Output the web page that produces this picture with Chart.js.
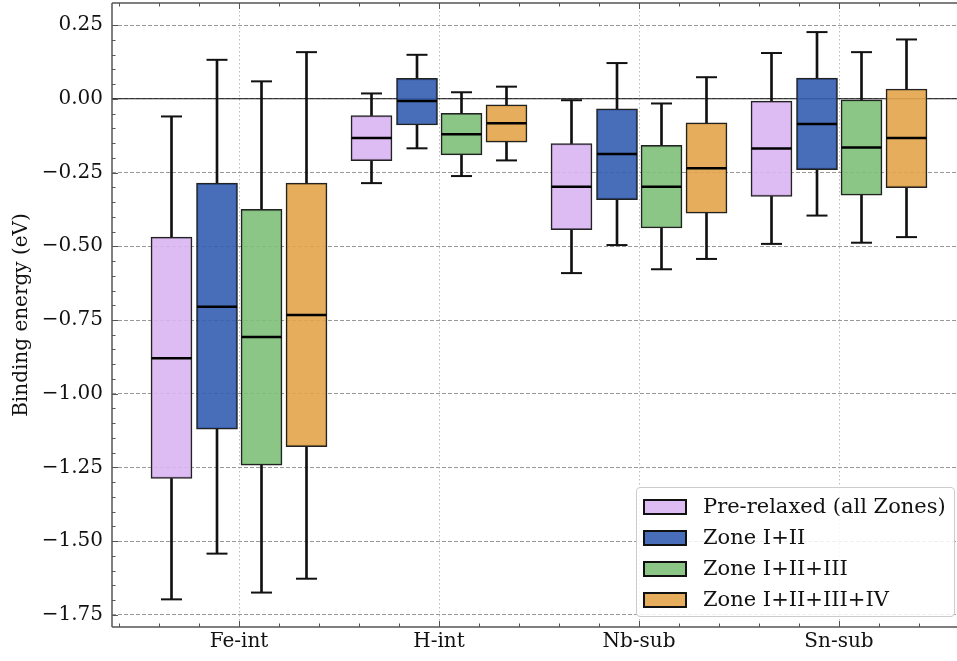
<!DOCTYPE html>
<html>
<head>
<meta charset="utf-8">
<script src="https://cdn.jsdelivr.net/npm/chart.js@4.4.1/dist/chart.umd.min.js"></script>
<style>
  html, body { margin: 0; padding: 0; background: #fff; }
  #wrap { position: relative; width: 957px; height: 661px; overflow: hidden; }
  #legend {
    position: absolute; left: 636px; top: 487px; width: 317px; height: 128px;
    border: 1px solid #ccc; border-radius: 4px; background: rgba(255,255,255,0.85);
    font-family: "DejaVu Serif", serif; font-size: 21px; color: #111;
  }
  .row { position: absolute; left: 0; height: 20px; line-height: 20px; white-space: nowrap; }
  .sw { position: absolute; left: 6px; top: 2px; width: 40px; height: 12px; border: 2px solid #111; }
  .lbl { position: absolute; left: 66px; top: -1px; }
</style>
</head>
<body>
<div id="wrap">
  <canvas id="c" width="957" height="661"></canvas>
  <div id="legend"></div>
</div>
<script>
// ── Data ──────────────────────────────────────────────────────────────────
const categories = ['Fe-int', 'H-int', 'Nb-sub', 'Sn-sub'];
const seriesNames = ['Pre-relaxed (all Zones)', 'Zone I+II', 'Zone I+II+III', 'Zone I+II+III+IV'];
const yTicks = [-1.75, -1.5, -1.25, -1.0, -0.75, -0.5, -0.25, 0.0, 0.25];

// per series: one value per category
const wMin = [
  [-1.697, -0.286, -0.591, -0.492],
  [-1.542, -0.168, -0.496, -0.396],
  [-1.674, -0.262, -0.578, -0.488],
  [-1.627, -0.209, -0.543, -0.469]
];
const q1 = [
  [-1.287, -0.210, -0.444, -0.331],
  [-1.120, -0.089, -0.342, -0.240],
  [-1.242, -0.190, -0.438, -0.327],
  [-1.179, -0.147, -0.388, -0.301]
];
const med = [
  [-0.880, -0.133, -0.298, -0.169],
  [-0.705, -0.008, -0.187, -0.086],
  [-0.808, -0.120, -0.298, -0.165],
  [-0.733, -0.083, -0.236, -0.133]
];
const q3 = [
  [-0.469, -0.057, -0.152, -0.008],
  [-0.286,  0.069, -0.034,  0.070],
  [-0.375, -0.049, -0.158, -0.004],
  [-0.286, -0.021, -0.082,  0.033]
];
const wMax = [
  [-0.060,  0.018, -0.005,  0.155],
  [ 0.132,  0.149,  0.121,  0.226],
  [ 0.059,  0.022, -0.016,  0.158],
  [ 0.158,  0.041,  0.073,  0.201]
];

const fills = ['rgba(216,181,241,0.9)', 'rgba(52,94,177,0.9)', 'rgba(126,192,122,0.9)', 'rgba(226,164,74,0.9)'];
const offsets = [-0.3375, -0.11, 0.1125, 0.3375];
const FONT = '"DejaVu Serif", serif';

// ── Datasets ──────────────────────────────────────────────────────────────
const datasets = [];
seriesNames.forEach((name, s) => {
  const xs = categories.map((_, i) => i + offsets[s]);
  datasets.push({
    type: 'bar', label: name, order: 2, grouped: false, barThickness: 41,
    backgroundColor: fills[s], borderColor: '#222', borderWidth: 1.5, borderSkipped: false,
    data: xs.map((x, i) => ({ x: x, y: [q1[s][i], q3[s][i]] }))
  });
  datasets.push({
    type: 'bar', label: name + ' whisker', order: 3, grouped: false, barThickness: 2,
    backgroundColor: '#111', borderWidth: 0,
    data: xs.map((x, i) => ({ x: x, y: [wMin[s][i], q1[s][i]] }))
      .concat(xs.map((x, i) => ({ x: x, y: [q3[s][i], wMax[s][i]] })))
  });
  datasets.push({
    type: 'line', label: name + ' caps', order: 1, showLine: false,
    pointStyle: 'line', pointRadius: 10.5, pointBorderWidth: 2, pointBorderColor: '#111',
    data: xs.map((x, i) => ({ x: x, y: wMin[s][i] }))
      .concat(xs.map((x, i) => ({ x: x, y: wMax[s][i] })))
  });
  datasets.push({
    type: 'line', label: name + ' median', order: 0, showLine: false,
    pointStyle: 'line', pointRadius: 20, pointBorderWidth: 2.5, pointBorderColor: '#000',
    data: xs.map((x, i) => ({ x: x, y: med[s][i] }))
  });
});

// ── Frame, inward ticks and zero line ─────────────────────────────────────
const framePlugin = {
  id: 'frame',
  beforeDatasetsDraw(chart) {
    const { ctx, chartArea: a, scales: { y } } = chart;
    const y0 = y.getPixelForValue(0);
    ctx.save();
    ctx.strokeStyle = '#111'; ctx.lineWidth = 1.2;
    ctx.beginPath(); ctx.moveTo(a.left, y0); ctx.lineTo(a.right, y0); ctx.stroke();
    ctx.restore();
  },
  afterDraw(chart) {
    const { ctx, chartArea: a, scales: { x, y } } = chart;
    ctx.save();
    ctx.strokeStyle = '#555'; ctx.lineWidth = 1.5;
    ctx.beginPath();
    ctx.moveTo(a.left, a.top); ctx.lineTo(a.right, a.top);
    ctx.moveTo(a.left, a.bottom); ctx.lineTo(a.right, a.bottom);
    ctx.moveTo(a.left, a.top); ctx.lineTo(a.left, a.bottom);
    ctx.stroke();
    ctx.lineWidth = 1;
    ctx.beginPath();
    for (let v = -1.75; v <= 0.3; v += 0.05) {
      const py = Math.round(y.getPixelForValue(v)) + 0.5;
      const major = Math.abs(v / 0.25 - Math.round(v / 0.25)) < 1e-6;
      ctx.moveTo(a.left, py); ctx.lineTo(a.left + (major ? 6 : 3.5), py);
    }
    for (let v = -0.6; v <= 3.6; v += 0.2) {
      const px = Math.round(x.getPixelForValue(v)) + 0.5;
      const major = Math.abs(v - Math.round(v)) < 1e-6;
      const len = major ? 6 : 3.5;
      ctx.moveTo(px, a.top); ctx.lineTo(px, a.top + len);
      ctx.moveTo(px, a.bottom); ctx.lineTo(px, a.bottom - len);
    }
    ctx.stroke();
    ctx.restore();
  }
};

function noPad(sc) {
  sc.paddingTop = 0; sc.paddingBottom = 0; sc.paddingLeft = 0; sc.paddingRight = 0;
}

new Chart(document.getElementById('c'), {
  type: 'bar',
  data: { datasets: datasets },
  options: {
    responsive: false,
    animation: false,
    events: [],
    layout: { autoPadding: false, padding: { top: 3, right: 0, left: 0, bottom: 0 } },
    plugins: { legend: { display: false }, tooltip: { enabled: false } },
    scales: {
      x: {
        type: 'linear', min: -0.635, max: 3.59, offset: false,
        afterBuildTicks: (sc) => { sc.ticks = categories.map((_, i) => ({ value: i })); },
        afterFit: (sc) => { sc.height = 34; noPad(sc); },
        ticks: { callback: (v) => categories[v], color: '#111', padding: 3, maxRotation: 0, font: { family: FONT, size: 20 } },
        grid: { color: '#bbb', lineWidth: 1, drawTicks: false, offset: false },
        border: { display: false, dash: [1.5, 2.5] }
      },
      y: {
        type: 'linear', min: -1.7907, max: 0.3246,
        afterBuildTicks: (sc) => { sc.ticks = yTicks.map(v => ({ value: v })); },
        afterFit: (sc) => { sc.width = 112; noPad(sc); },
        ticks: {
          callback: (v) => v.toFixed(2).replace('-', '\u2212'),
          color: '#111', padding: 9, font: { family: FONT, size: 20 }
        },
        grid: { color: '#999', lineWidth: 1, drawTicks: false },
        border: { display: false, dash: [4, 2] },
        title: { display: true, text: 'Binding energy (eV)', color: '#111', padding: { top: 10, bottom: 0 }, font: { family: FONT, size: 20 } }
      }
    }
  },
  plugins: [framePlugin]
});

// ── Legend ────────────────────────────────────────────────────────────────
const legend = document.getElementById('legend');
seriesNames.forEach((name, s) => {
  const row = document.createElement('div');
  row.className = 'row';
  row.style.top = (9 + s * 31) + 'px';
  row.innerHTML = '<span class="sw" style="background:' + fills[s] + '"></span><span class="lbl">' + name + '</span>';
  legend.appendChild(row);
});
</script>
</body>
</html>
